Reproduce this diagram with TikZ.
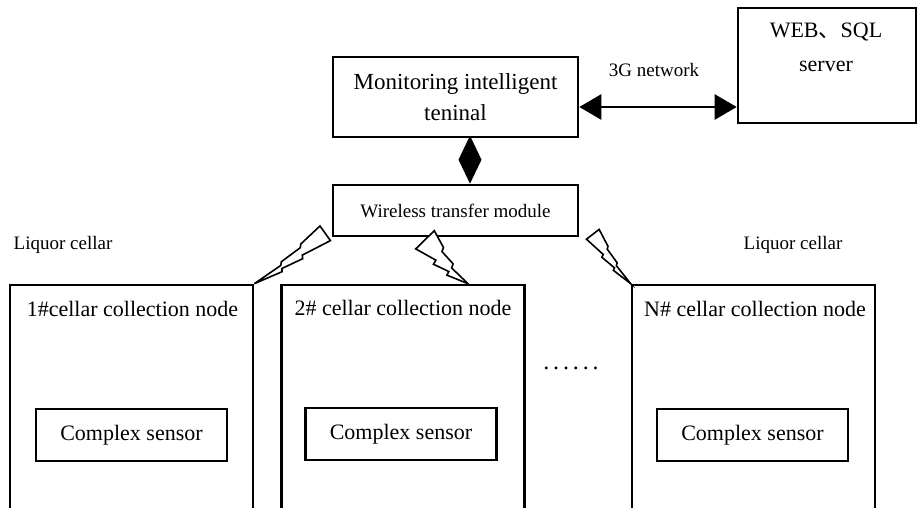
\documentclass[tikz,border=0pt]{standalone}
\usepackage{fontspec}
\setmainfont{Liberation Serif}
\newfontfamily\cjk{Noto Sans CJK SC}
\usepackage{tikz}
\usetikzlibrary{arrows.meta,calc}

\begin{document}
\begin{tikzpicture}[x=0.5pt, y=-0.5pt, line width=1.3pt,
  box/.style={draw, rectangle, inner sep=0pt},
  big/.style={font=\fontsize{11}{15.5}\selectfont},
  small/.style={font=\fontsize{9.5}{11}\selectfont},
  bolt/.style={draw, fill=white, line width=0.8pt}]
\useasboundingbox (0,0) rectangle (917,508);
\clip (0,0) rectangle (917,508);

% top row: terminal and server
\node[box, big, align=center, minimum width=122.5pt, minimum height=40pt,
  font=\fontsize{11.5}{15.5}\selectfont] (mon) at (455.5,97) {Monitoring intelligent\\teninal};
\node[box, minimum width=89pt, minimum height=57.5pt] (srv) at (827,65.5) {};
\node[big, align=center, font=\fontsize{11}{17}\selectfont] (srvtxt) at (826,47) {WEB{\cjk 、}SQL\\server};

\coordinate (a) at ($(mon.east)+(0,10)$);
\draw[{Triangle[length=11pt,width=12.5pt]}-{Triangle[length=11pt,width=12.5pt]}] (a) -- (srv.west |- a);
\node[small] (net) at (654,70) {3G network};

% wireless module
\node[box, minimum width=122.5pt, minimum height=25.5pt, small] (wl) at (455.5,210.5) {Wireless transfer module};
\draw[-{Diamond[length=24pt,width=11.5pt]}] ($(mon.south)+(14.5,0)$) -- ($(wl.north)+(14.5,0)$);

% cellars
\node[box, minimum width=121.5pt, minimum height=125pt] (cel1) at (131.5,410) {};
\node[box, minimum width=121.5pt, minimum height=125pt] (cel2) at (403,410) {};
\node[box, minimum width=121.5pt, minimum height=125pt] (celN) at (753.5,410) {};

\node[big] (t1) at ($(cel1.north)+(1,25)$) {1\#cellar collection node};
\node[big] (t2) at ($(cel2.north)+(0,24)$) {2\# cellar collection node};
\node[big] (tN) at ($(celN.north)+(1.5,25)$) {N\# cellar collection node};

\node[box, big, minimum width=95.5pt, minimum height=26pt] (s1) at (131.5,435) {Complex sensor};
\node[box, big, minimum width=95.5pt, minimum height=26pt] (s2) at (401,434) {Complex sensor};
\node[box, big, minimum width=95.5pt, minimum height=26pt] (sN) at (752.5,435) {Complex sensor};

\node[small] (lc1) at (63,245) {Liquor cellar};
\node[small] (lcN) at (793,245) {Liquor cellar};
\node[font=\fontsize{12}{12}\selectfont\addfontfeature{LetterSpace=16}] (dots) at (571,368) {......};

% radio links
\coordinate (b1s) at ($(wl.south west)+(-6.5,-4)$);
\coordinate (b1t) at (cel1.north east);
\coordinate (b2s) at ($(wl.south)+(-30.5,2.5)$);
\coordinate (b2t) at ($(cel2.north)+(65,0)$);
\coordinate (b3s) at ($(wl.south east)+(13.5,-3)$);
\coordinate (b3t) at (celN.north west);

\foreach \s/\t/\w in {b1s/b1t/4.5pt, b2s/b2t/-6.5pt, b3s/b3t/-4pt}
  \draw[bolt] ($(\s)!\w!270:(\t)$)
    -- ($(\s)!0.3!(\t)!0.6*\w!270:(\t)$)
    -- ($(\s)!0.33!(\t)!0.3*\w!270:(\t)$)
    -- ($(\s)!0.6!(\t)!0.25*\w!270:(\t)$)
    -- ($(\s)!0.63!(\t)!-0.05*\w!270:(\t)$)
    -- (\t)
    -- ($(\s)!0.66!(\t)!-0.7*\w!270:(\t)$)
    -- ($(\s)!0.64!(\t)!-0.4*\w!270:(\t)$)
    -- ($(\s)!0.38!(\t)!-0.85*\w!270:(\t)$)
    -- ($(\s)!0.36!(\t)!-0.5*\w!270:(\t)$)
    -- ($(\s)!-1*\w!270:(\t)$) -- cycle;
\end{tikzpicture}
\end{document}
